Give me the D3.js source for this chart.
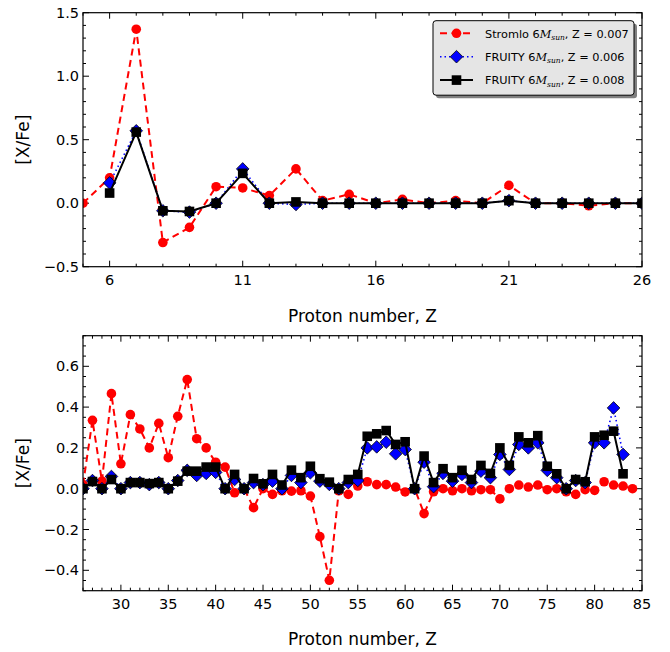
<!DOCTYPE html>
<html>
<head>
<meta charset="utf-8">
<script src="https://cdn.jsdelivr.net/npm/d3@7"></script>
<style>
  html, body { margin: 0; padding: 0; background: #fff; }
  svg { display: block; font-family: "DejaVu Sans", sans-serif; }
</style>
</head>
<body>
<svg id="chart" width="670" height="652"></svg>
<script>
// ---- Light elements, Z = 5..26 ----
const zLight = [5,6,7,8,9,10,11,12,13,14,15,16,17,18,19,20,21,22,23,24,25,26];
const stromloLight = [0.0,0.2,1.37,-0.31,-0.19,0.13,0.12,0.06,0.27,0.02,0.07,0.0,0.03,0.0,0.02,0.0,0.14,0.0,0.0,-0.02,0.0,0.0];
const zFruityLight = [6,7,8,9,10,11,12,13,14,15,16,17,18,19,20,21,22,23,24,25,26];
const fruity006Light = [0.16,0.57,-0.06,-0.07,0.0,0.27,0.0,-0.01,0.0,0.0,0.0,0.0,0.0,0.0,0.0,0.02,0.0,0.0,0.0,0.0,0.0];
const fruity008Light = [0.08,0.56,-0.06,-0.065,0.0,0.235,0.0,0.01,0.0,0.0,0.0,0.0,0.0,0.0,0.0,0.02,0.0,0.0,0.0,0.0,0.0];

// ---- Heavy elements, Z = 26..84 ----
const zHeavy = d3.range(26, 85);
const stromloHeavy = [0.02,0.335,0.037,0.466,0.122,0.363,0.293,0.2,0.32,0.152,0.355,0.535,0.245,0.2,0.13,0.106,-0.02,0.0,-0.093,0.0,
  -0.028,-0.01,-0.012,-0.01,-0.036,-0.235,-0.449,-0.01,-0.028,0.013,0.034,0.02,0.02,0.008,-0.016,0.0,-0.122,-0.015,0.0,-0.01,
  0.0,-0.01,-0.005,-0.005,-0.05,0.0,0.018,0.008,0.018,-0.005,0.0,-0.015,-0.028,-0.005,-0.008,0.034,0.018,0.013,0.0];
const zFruityHeavy = d3.range(26, 84);
const fruity006Heavy = [0.0,0.04,0.0,0.06,0.0,0.03,0.03,0.02,0.03,0.0,0.04,0.09,0.065,0.075,0.08,0.0,0.045,0.0,0.03,0.02,
  0.037,0.0,0.065,0.03,0.078,0.037,0.021,0.0,0.03,0.04,0.2,0.205,0.228,0.171,0.192,0.0,0.13,0.01,0.075,0.037,
  0.07,0.03,0.086,0.054,0.168,0.094,0.217,0.2,0.225,0.09,0.054,0.0,0.04,0.03,0.225,0.225,0.396,0.168];
const fruity008Heavy = [0.0,0.035,0.0,0.045,0.0,0.03,0.03,0.025,0.03,0.0,0.037,0.086,0.086,0.106,0.106,0.0,0.07,0.0,0.05,0.024,
  0.07,0.018,0.091,0.054,0.11,0.049,0.032,0.0,0.045,0.07,0.257,0.269,0.285,0.217,0.23,0.0,0.16,0.03,0.098,0.054,
  0.09,0.045,0.114,0.075,0.2,0.114,0.254,0.225,0.26,0.11,0.073,0.0,0.045,0.034,0.254,0.262,0.282,0.073];

const legendLabels = [
  { name: "Stromlo 6", z: "Z = 0.007" },
  { name: "FRUITY 6", z: "Z = 0.006" },
  { name: "FRUITY 6", z: "Z = 0.008" }
];
const topXTicks = [6, 11, 16, 21, 26];
const topYTicks = [-0.5, 0.0, 0.5, 1.0, 1.5];
const botXTicks = d3.range(30, 86, 5);
const botYTicks = [-0.4, -0.2, 0.0, 0.2, 0.4, 0.6];

const svg = d3.select("#chart");
const fmtMinus = s => s.replace("-", "\u2212");

const styles = {
  stromlo: { color: "#ff0000", dash: "7,4.5", width: 2, marker: "circle" },
  f006: { color: "#0000ff", dash: "1.5,3", width: 1.6, marker: "diamond" },
  f008: { color: "#000000", dash: null, width: 2, marker: "square" }
};

function drawMarker(g, type, cx, cy, color) {
  if (type === "circle") {
    g.append("circle").attr("cx", cx).attr("cy", cy).attr("r", 4.8).attr("fill", color);
  } else if (type === "diamond") {
    const s = 6.3;
    g.append("path").attr("d", `M${cx},${cy - s}L${cx + s},${cy}L${cx},${cy + s}L${cx - s},${cy}Z`)
      .attr("fill", color).attr("stroke", "#000").attr("stroke-width", 0.8);
  } else {
    const s = 4.8;
    g.append("rect").attr("x", cx - s).attr("y", cy - s).attr("width", 2 * s).attr("height", 2 * s)
      .attr("fill", color);
  }
}

function panel(opts) {
  const { left, right, top, bottom, xDomain, yDomain, xTicks, xMinor, yTicks, yMinor, yFmt, series, id, labelY, tickLabelY } = opts;
  const x = d3.scaleLinear().domain(xDomain).range([left, right]);
  const y = d3.scaleLinear().domain(yDomain).range([bottom, top]);
  const g = svg.append("g");

  g.append("clipPath").attr("id", id).append("rect")
    .attr("x", left).attr("y", top).attr("width", right - left).attr("height", bottom - top);

  // inward ticks on all four sides
  const tk = g.append("g").attr("stroke", "#000").attr("stroke-width", 1);
  xMinor.forEach(v => {
    const maj = xTicks.includes(v);
    const L = maj ? 6 : 3;
    tk.append("line").attr("x1", x(v)).attr("x2", x(v)).attr("y1", bottom).attr("y2", bottom - L);
    tk.append("line").attr("x1", x(v)).attr("x2", x(v)).attr("y1", top).attr("y2", top + L);
  });
  yMinor.forEach(v => {
    const maj = yTicks.some(t => Math.abs(t - v) < 1e-9);
    const L = maj ? 6 : 3;
    tk.append("line").attr("x1", left).attr("x2", left + L).attr("y1", y(v)).attr("y2", y(v));
    tk.append("line").attr("x1", right).attr("x2", right - L).attr("y1", y(v)).attr("y2", y(v));
  });

  // series
  const plot = g.append("g").attr("clip-path", `url(#${id})`);
  series.forEach(s => {
    const st = styles[s.style];
    const pts = s.xs.map((z, i) => [x(z), y(s.ys[i])]);
    plot.append("path").attr("d", d3.line()(pts)).attr("fill", "none")
      .attr("stroke", st.color).attr("stroke-width", st.width)
      .attr("stroke-dasharray", st.dash).attr("stroke-linejoin", "round");
    pts.forEach(p => drawMarker(plot, st.marker, p[0], p[1], st.color));
  });

  // frame
  g.append("rect").attr("x", left).attr("y", top).attr("width", right - left).attr("height", bottom - top)
    .attr("fill", "none").attr("stroke", "#000").attr("stroke-width", 1.2);

  // tick labels
  xTicks.forEach(v => {
    g.append("text").attr("x", x(v)).attr("y", tickLabelY).attr("text-anchor", "middle")
      .attr("font-size", 14.5).attr("fill", "#000").text(v);
  });
  yTicks.forEach(v => {
    g.append("text").attr("x", left - 4).attr("y", y(v) + 5).attr("text-anchor", "end")
      .attr("font-size", 14.5).attr("fill", "#000").text(fmtMinus(yFmt(v)));
  });

  // axis titles
  g.append("text").attr("x", (left + right) / 2).attr("y", labelY).attr("text-anchor", "middle")
    .attr("font-size", 17).attr("fill", "#000").text("Proton number, Z");
  g.append("text").attr("transform", `translate(29,${(top + bottom) / 2}) rotate(-90)`)
    .attr("text-anchor", "middle").attr("font-size", 17).attr("fill", "#000").text("[X/Fe]");
  return { x, y };
}

panel({
  id: "clipTop", left: 83, right: 642, top: 12.7, bottom: 266.7,
  xDomain: [5, 26], yDomain: [-0.5, 1.5],
  xTicks: topXTicks, xMinor: d3.range(5, 27), yTicks: topYTicks,
  yMinor: d3.range(-5, 16).map(v => v / 10), yFmt: d3.format(".1f"),
  tickLabelY: 285, labelY: 322,
  series: [
    { style: "stromlo", xs: zLight, ys: stromloLight },
    { style: "f006", xs: zFruityLight, ys: fruity006Light },
    { style: "f008", xs: zFruityLight, ys: fruity008Light }
  ]
});

panel({
  id: "clipBot", left: 83, right: 642, top: 335.7, bottom: 590.7,
  xDomain: [26, 85], yDomain: [-0.5, 0.75],
  xTicks: botXTicks, xMinor: d3.range(26, 86), yTicks: botYTicks,
  yMinor: d3.range(-10, 16).map(v => v / 20), yFmt: d3.format(".1f"),
  tickLabelY: 609, labelY: 645,
  series: [
    { style: "stromlo", xs: zHeavy, ys: stromloHeavy },
    { style: "f006", xs: zFruityHeavy, ys: fruity006Heavy },
    { style: "f008", xs: zFruityHeavy, ys: fruity008Heavy }
  ]
});

// legend
const lg = svg.append("g");
const lx = 433, ly = 20.7, lw = 201, lh = 74.5;
lg.append("rect").attr("x", lx + 3).attr("y", ly + 3).attr("width", lw).attr("height", lh)
  .attr("rx", 3).attr("fill", "#808080");
lg.append("rect").attr("x", lx).attr("y", ly).attr("width", lw).attr("height", lh)
  .attr("rx", 3).attr("fill", "#e5e5e5").attr("stroke", "#000").attr("stroke-width", 1);
const keys = ["stromlo", "f006", "f008"];
keys.forEach((k, i) => {
  const st = styles[k];
  const yy = 33.3 + i * 23.4;
  lg.append("line").attr("x1", 440).attr("x2", 473).attr("y1", yy).attr("y2", yy)
    .attr("stroke", st.color).attr("stroke-width", st.width).attr("stroke-dasharray", st.dash);
  drawMarker(lg, st.marker, 456.5, yy, st.color);
  const t = lg.append("text").attr("x", 485).attr("y", yy + 4.3).attr("font-size", 11.3).attr("fill", "#000");
  t.append("tspan").text(legendLabels[i].name);
  t.append("tspan").attr("font-family", "DejaVu Serif").attr("font-style", "italic").text("M");
  t.append("tspan").attr("font-family", "DejaVu Serif").attr("font-style", "italic")
    .attr("font-size", 7.5).attr("dy", 2.2).text("sun");
  t.append("tspan").attr("dy", -2.2).text(", " + legendLabels[i].z);
});
</script>
</body>
</html>
